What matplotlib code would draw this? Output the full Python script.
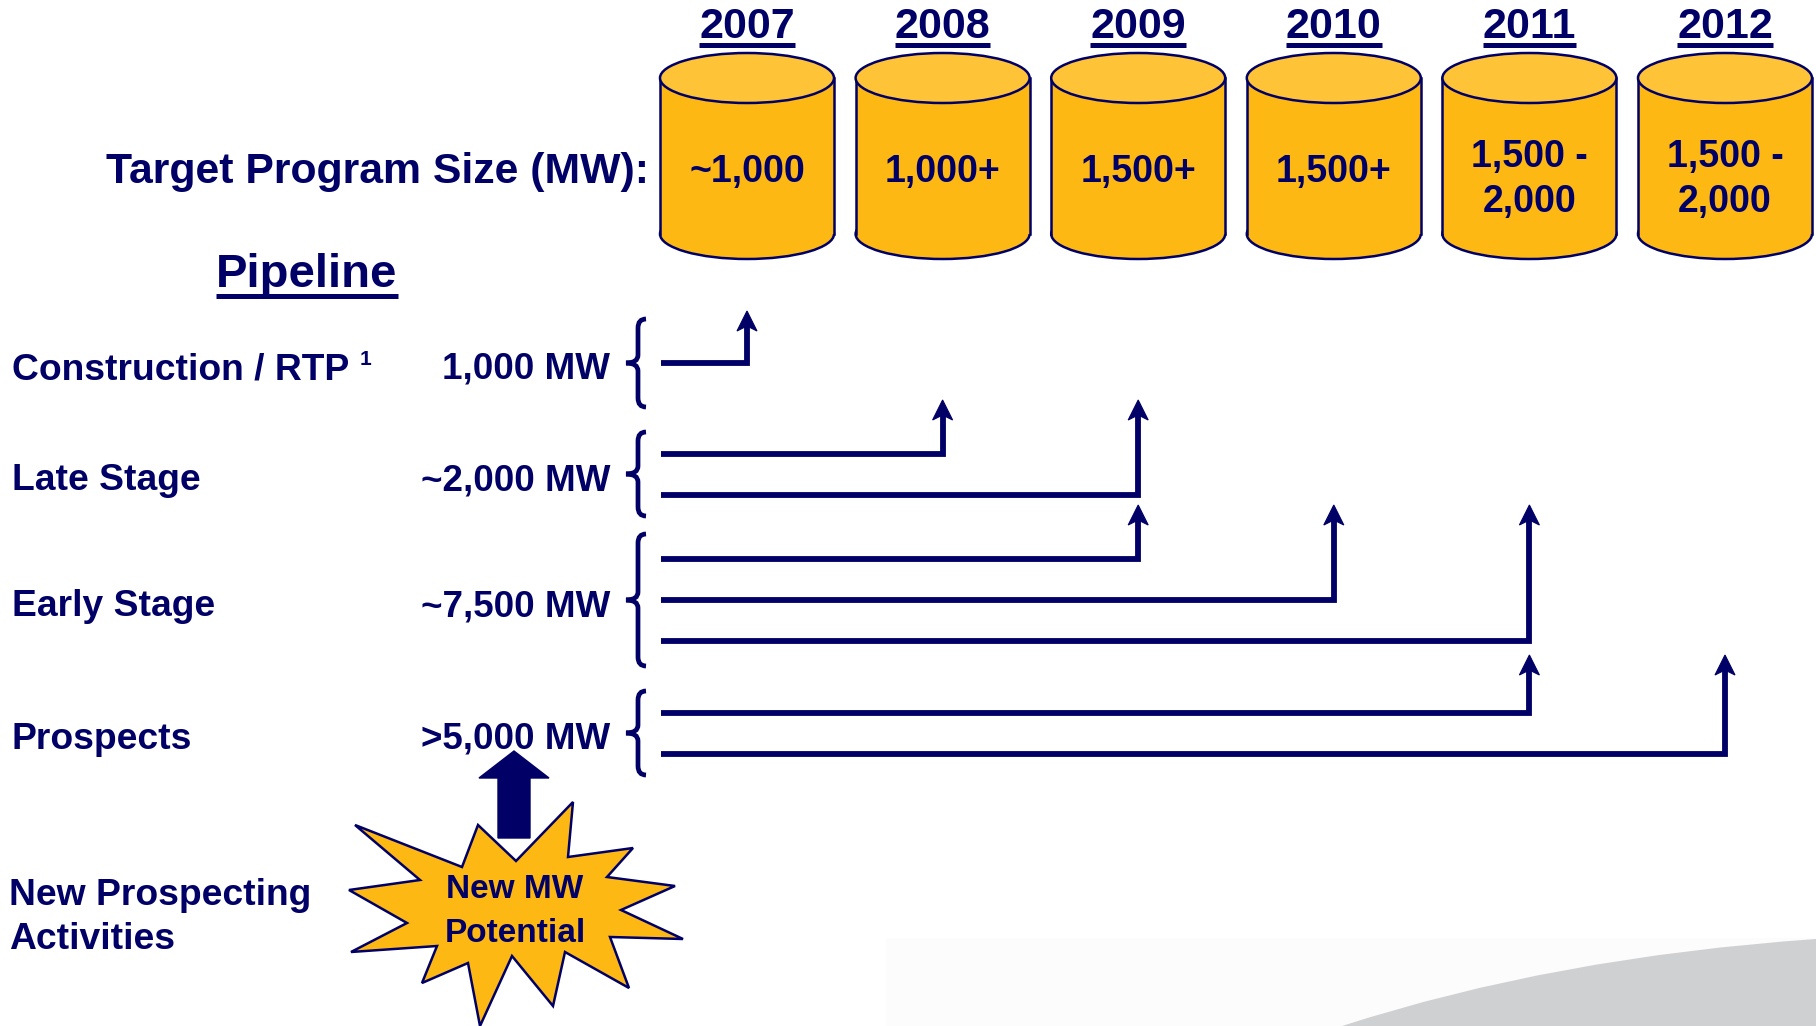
import matplotlib
matplotlib.use("Agg")

import matplotlib.pyplot as plt
from matplotlib.patches import Ellipse, Rectangle, Polygon, PathPatch, FancyArrow
from matplotlib.path import Path
import numpy as np

# =====================================================================
# DATA
# =====================================================================
YEARS = ['2007', '2008', '2009', '2010', '2011', '2012']
TARGETS = ['~1,000', '1,000+', '1,500+', '1,500+', '1,500 -\n2,000', '1,500 -\n2,000']
STAGES = ['Construction / RTP', 'Late Stage', 'Early Stage', 'Prospects']
STAGE_MW = ['1,000 MW', '~2,000 MW', '~7,500 MW', '>5,000 MW']
# target year that each pipeline tranche feeds
LINKS = [['2007'], ['2008', '2009'], ['2009', '2010', '2011'], ['2011', '2012']]

# =====================================================================
# STYLE / LAYOUT (pixel coords, y pointing down)
# =====================================================================
NAVY = '#000066'
GOLD = '#FDB813'
GOLD_TOP = '#FEC336'
SWOOSH = '#CFD0D2'
FONT = 'Liberation Sans'

W, H = 1816, 1026
COL_X0, COL_STEP = 747, 195.6
CYL_W, CYL_TOP, CYL_BOT, CYL_EH = 174, 78, 234, 50
ROW_Y = [363, 474, 600, 733]
BRACE_HALF = [44, 42, 66, 42]
TIP_Y = [311, 400, 505, 655]
LINE_GAP = 41
LINE_X0 = 661
BRACE_X = 638
LW = 4.2

STAR_C = (515, 915)
STAR_PTS = [(-160, -90), (-53, -48), (-37, -90), (1, -54), (58, -113), (53, -58),
            (118, -67), (92, -38), (160, -29), (106, -5), (168, 24), (95, 22),
            (114, 73), (50, 37), (38, 91), (-3, 41), (-35, 111), (-47, 48),
            (-93, 68), (-78, 31), (-164, 37), (-108, 8), (-166, -25), (-95, -35)]

fig = plt.figure(figsize=(W / 100, H / 100), dpi=100)
ax = fig.add_axes([0, 0, 1, 1])
ax.set_xlim(0, W)
ax.set_ylim(H, 0)
ax.axis('off')

col_x = {yr: COL_X0 + COL_STEP * i for i, yr in enumerate(YEARS)}

# background swoosh bottom right
ax.add_patch(Rectangle((886, 938), W - 886, H - 938, facecolor='#FCFCFC', edgecolor='none', zorder=0))
sw = Path([(1342, H), (1555, 957), (W, 939), (W, H), (1342, H)],
          [Path.MOVETO, Path.CURVE3, Path.CURVE3, Path.LINETO, Path.CLOSEPOLY])
ax.add_patch(PathPatch(sw, facecolor=SWOOSH, edgecolor='none', zorder=0))

txt_kw = dict(color=NAVY, family=FONT, fontweight='bold')
underlined = []

# ---- cylinders with target program size ----
for yr, val in zip(YEARS, TARGETS):
    cx = col_x[yr]
    ax.add_patch(Ellipse((cx, CYL_BOT), CYL_W, CYL_EH, facecolor=GOLD, edgecolor=NAVY, lw=1.8, zorder=2))
    ax.add_patch(Rectangle((cx - CYL_W / 2, CYL_TOP), CYL_W, CYL_BOT - CYL_TOP, facecolor=GOLD,
                           edgecolor='none', zorder=3))
    ax.plot([cx - CYL_W / 2] * 2, [CYL_TOP, CYL_BOT], color=NAVY, lw=1.8, zorder=4)
    ax.plot([cx + CYL_W / 2] * 2, [CYL_TOP, CYL_BOT], color=NAVY, lw=1.8, zorder=4)
    ax.add_patch(Ellipse((cx, CYL_TOP), CYL_W, CYL_EH, facecolor=GOLD_TOP, edgecolor=NAVY, lw=1.8, zorder=5))

    t = ax.text(cx, 38, yr, ha='center', va='baseline', fontsize=31, zorder=6, **txt_kw)
    underlined.append((t, 45, 3.6))

    lines = val.split('\n')
    bases = [182] if len(lines) == 1 else [167, 212]
    for ln, b in zip(lines, bases):
        ax.text(cx, b, ln, ha='center', va='baseline', fontsize=27, zorder=6, **txt_kw)

ax.text(649, 183, 'Target Program Size (MW):', ha='right', va='baseline', fontsize=30.8, **txt_kw)
t = ax.text(307, 287, 'Pipeline', ha='center', va='baseline', fontsize=34, **txt_kw)
underlined.append((t, 296, 3.6))

# ---- pipeline rows ----
for r, (stage, mw) in enumerate(zip(STAGES, STAGE_MW)):
    yc = ROW_Y[r]
    base = yc + 16
    ax.text(12, base, stage, ha='left', va='baseline', fontsize=26.8, **txt_kw)
    if r == 0:
        ax.text(360, base - 14, '1', ha='left', va='baseline', fontsize=15, **txt_kw)
    ax.text(610, base, mw, ha='right', va='baseline', fontsize=26.5, **txt_kw)

    # curly brace
    h = BRACE_HALF[r]
    top, bot = yc - h, yc + h
    bx = BRACE_X
    verts = [(bx + 8, top), (bx, top), (bx, top + 9), (bx, yc - 8),
             (bx, yc), (bx - 12, yc), (bx, yc), (bx, yc + 8),
             (bx, bot - 9), (bx, bot), (bx + 8, bot)]
    codes = [Path.MOVETO, Path.CURVE3, Path.CURVE3, Path.LINETO,
             Path.CURVE3, Path.CURVE3, Path.CURVE3, Path.CURVE3,
             Path.LINETO, Path.CURVE3, Path.CURVE3]
    ax.add_patch(PathPatch(Path(verts, codes), facecolor='none', edgecolor=NAVY, lw=3.4,
                           capstyle='butt', zorder=4))

    # elbow arrows into the target years
    n = len(LINKS[r])
    for k, yr in enumerate(LINKS[r]):
        y = yc + (k - (n - 1) / 2) * LINE_GAP
        x = col_x[yr]
        tip = TIP_Y[r]
        ax.plot([LINE_X0, x, x], [y, y, tip + 14], color=NAVY, lw=LW,
                solid_joinstyle='miter', solid_capstyle='butt', zorder=4)
        ax.add_patch(Polygon([(x, tip), (x + 10, tip + 20), (x, tip + 15), (x - 10, tip + 20)],
                             closed=True, facecolor=NAVY, edgecolor=NAVY, lw=0.8, zorder=5))

# ---- new prospecting ----
ax.text(9, 905, 'New Prospecting', ha='left', va='baseline', fontsize=26.8, **txt_kw)
ax.text(9, 949, 'Activities', ha='left', va='baseline', fontsize=26.8, **txt_kw)

star = [(STAR_C[0] + dx, STAR_C[1] + dy) for dx, dy in STAR_PTS]
ax.add_patch(Polygon(star, closed=True, facecolor=GOLD, edgecolor=NAVY, lw=1.8, zorder=3))
ax.text(STAR_C[0], 898, 'New MW', ha='center', va='baseline', fontsize=24, zorder=6, **txt_kw)
ax.text(STAR_C[0], 942, 'Potential', ha='center', va='baseline', fontsize=24, zorder=6, **txt_kw)
ax.add_patch(FancyArrow(514, 838, 0, -87, width=32, head_width=70, head_length=27,
                        length_includes_head=True, facecolor=NAVY, edgecolor=NAVY, zorder=4))

# ---- underlines (need text extents) ----
fig.canvas.draw()
renderer = fig.canvas.get_renderer()
inv = ax.transData.inverted()
for t, y, lw in underlined:
    bb = t.get_window_extent(renderer)
    (x0, _), (x1, _) = inv.transform([(bb.x0, bb.y0), (bb.x1, bb.y0)])
    ax.plot([x0, x1], [y, y], color=NAVY, lw=lw, solid_capstyle='butt', zorder=6)

fig.savefig('out.png', dpi=100, facecolor='white')
